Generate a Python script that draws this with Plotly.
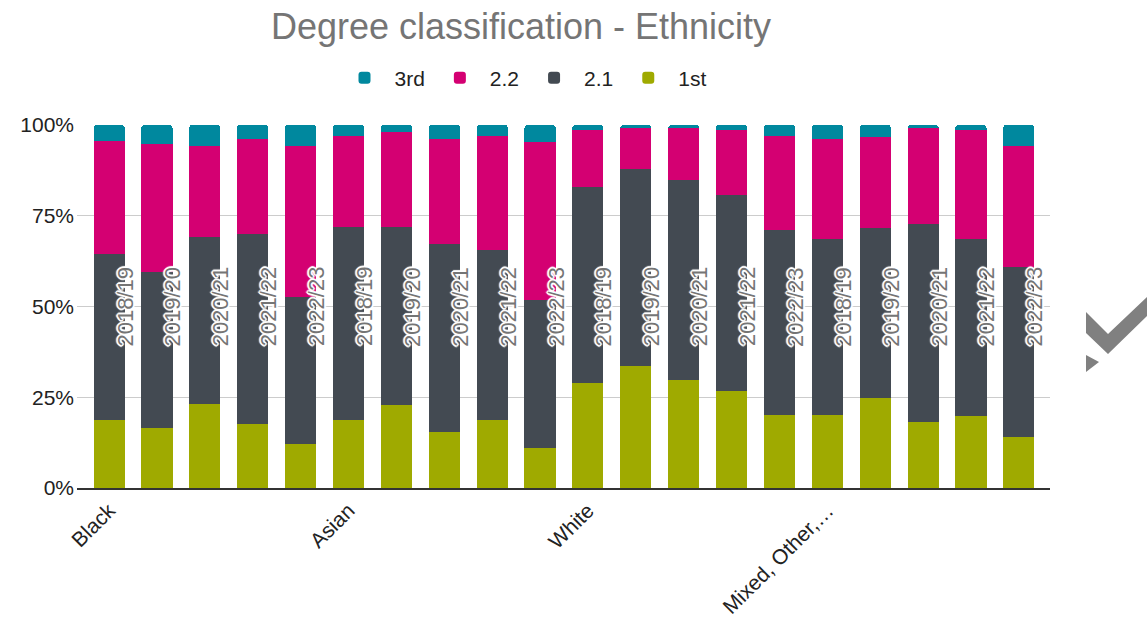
import plotly.graph_objects as go

groups = ["Black", "Asian", "White", "Mixed, Other,…"]
years = ["2018/19", "2019/20", "2020/21", "2021/22", "2022/23"]

first = [18.6, 16.5, 23.2, 17.6, 12.1,
         18.6, 22.8, 15.5, 18.6, 11.0,
         28.8, 33.5, 29.8, 26.8, 20.2,
         20.2, 24.8, 18.2, 19.7, 14.0]
upper_second = [45.8, 42.9, 45.9, 52.5, 40.6,
                53.2, 49.0, 51.6, 46.9, 40.8,
                54.0, 54.5, 55.1, 54.0, 51.0,
                48.4, 46.9, 54.6, 48.9, 47.0]
lower_second = [31.3, 35.3, 25.0, 26.0, 41.4,
                25.3, 26.4, 29.0, 31.6, 43.4,
                15.9, 11.3, 14.4, 17.9, 25.9,
                27.5, 24.9, 26.5, 30.1, 33.1]
third = [4.3, 5.3, 5.9, 3.9, 5.9,
         2.9, 1.8, 3.9, 2.9, 4.8,
         1.3, 0.7, 0.7, 1.3, 2.9,
         3.9, 3.4, 0.7, 1.3, 5.9]

year_labels = [y for g in groups for y in years]
xpos = list(range(len(year_labels)))
group_ticks = [i * len(years) for i in range(len(groups))]

series = [
    ("1st", first, "#9FAA00"),
    ("2.1", upper_second, "#434A52"),
    ("2.2", lower_second, "#D40072"),
    ("3rd", third, "#00889E"),
]

FONT = "Arial, Liberation Sans, sans-serif"

fig = go.Figure()
for name, vals, col in series:
    fig.add_trace(go.Bar(x=xpos, y=vals, name=name, marker_color=col,
                         marker_line_width=0, hoverinfo="y+name"))

W, H = 1147, 623
ml, mt = 77, 125
mr = W - 1050
mb = H - 488
pw = W - ml - mr
ph = H - mt - mb

def px(x):
    return (x - ml) / pw

def py(y):
    return (H - mb - y) / ph

halo = ("1px 1px 0 #fff, -1px -1px 0 #fff, 1px -1px 0 #fff, -1px 1px 0 #fff, "
        "0 2px 1px #fff, 0 -2px 1px #fff, 2px 0 1px #fff, -2px 0 1px #fff")
annotations = []
for i, lab in enumerate(year_labels):
    annotations.append(dict(
        x=xpos[i], y=50, xref="x", yref="y", text=lab, showarrow=False,
        textangle=-90, xshift=16,
        font=dict(family=FONT, size=22, color="#757575", shadow=halo),
    ))

check_path = "M {},{} L {},{} L {},{} L {},{} L {},{} L {},{} Z".format(
    px(1086), py(312), px(1108), py(334), px(1147), py(297),
    px(1147), py(316), px(1108), py(354), px(1086), py(333))
tri_path = "M {},{} L {},{} L {},{} Z".format(
    px(1086), py(355), px(1099), py(362), px(1086), py(372))

fig.update_layout(
    width=W, height=H,
    barmode="stack",
    bargap=0.35,
    barcornerradius=3,
    plot_bgcolor="#fff", paper_bgcolor="#fff",
    margin=dict(l=ml, r=mr, t=mt, b=mb, autoexpand=False),
    font=dict(family=FONT, size=21, color="#222"),
    title=dict(text="Degree classification - Ethnicity", x=px(521), xanchor="center",
               xref="paper", y=1 - 26 / H, yanchor="middle",
               font=dict(size=36, color="#757575")),
    legend=dict(orientation="h", x=px(523), xanchor="center", y=py(78), yanchor="middle",
                traceorder="reversed", font=dict(size=21, color="#222"),
                itemwidth=50),
    xaxis=dict(tickmode="array", tickvals=group_ticks, automargin=False,
               ticktext=groups, tickangle=-45, range=[-0.67, 19.65],
               showgrid=False, showline=True, linecolor="#333", linewidth=2,
               ticks="", tickfont=dict(size=21, color="#222")),
    yaxis=dict(range=[0, 100], tickvals=[0, 25, 50, 75, 100], automargin=False,
               ticktext=["0%", "25%", "50%", "75%", "100%"],
               showgrid=True, gridcolor="#cccccc", gridwidth=1, ticklabelstandoff=2,
               zeroline=False, ticks="", tickfont=dict(size=21, color="#222")),
    annotations=annotations,
    shapes=[
        dict(type="path", path=check_path, xref="paper", yref="paper",
             fillcolor="#808080", line=dict(width=0)),
        dict(type="path", path=tri_path, xref="paper", yref="paper",
             fillcolor="#808080", line=dict(width=0)),
    ],
)

fig.write_html("out.html", config={"displayModeBar": False},
               post_script="document.body.style.margin='0';document.body.style.overflow='hidden';")
